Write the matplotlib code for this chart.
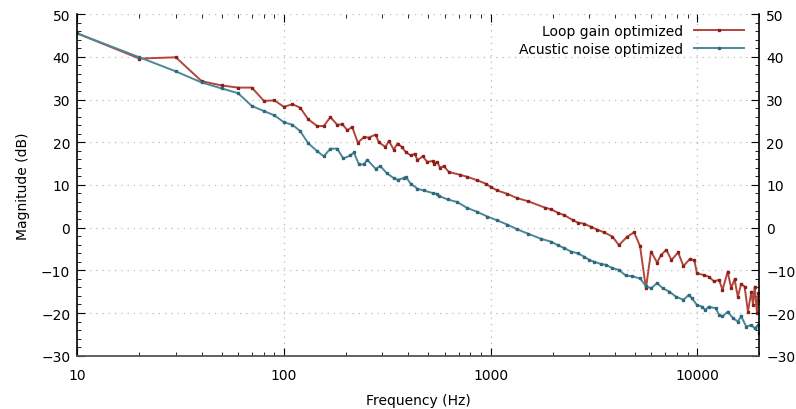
import matplotlib
matplotlib.use('Agg')
import matplotlib.pyplot as plt
import matplotlib.ticker as ticker

# Loop gain optimized
freq_loop = [10, 20, 30, 40, 50, 60, 70, 80, 90, 100, 110, 120, 131, 145, 156, 168,
             181, 192, 203, 214, 228, 244, 258, 278, 288, 310, 322, 340, 355, 372,
             389, 411, 430, 443, 470, 494, 524, 533, 552, 570, 594, 630, 710, 772,
             862, 947, 1004, 1078, 1207, 1346, 1516, 1830, 1963, 2113, 2276, 2496,
             2637, 2840, 3057, 3292, 3540, 3890, 4180, 4590, 4950, 5290, 5650, 5980,
             6400, 6690, 7090, 7510, 8090, 8580, 9240, 9700, 9970, 10740, 11380,
             12060, 12770, 13260, 14050, 14600, 15170, 15730, 16330, 16960, 17610,
             18290, 18630, 18980, 19470, 19710, 20000]
mag_loop = [45.5, 39.6, 39.9, 34.3, 33.3, 32.8, 32.8, 29.7, 29.8, 28.3, 28.9, 28.1, 25.4,
            23.8, 23.8, 25.9, 24.1, 24.2, 22.8, 23.6, 19.9, 21.2, 21.1, 21.8, 20.0, 18.9,
            20.3, 18.3, 19.7, 18.9, 17.7, 16.9, 17.3, 15.8, 16.7, 15.4, 15.6, 15.0, 15.4,
            14.0, 14.4, 13.0, 12.4, 11.9, 11.1, 10.3, 9.5, 8.7, 7.9, 6.9, 6.2, 4.7, 4.3,
            3.5, 2.9, 1.8, 1.2, 0.9, 0.2, -0.5, -1.1, -2.1, -4.1, -2.1, -1.1, -4.3, -14.2,
            -5.6, -8.2, -6.4, -5.2, -7.6, -5.8, -9.0, -7.3, -7.7, -10.7, -11.1, -11.5,
            -12.6, -12.2, -14.6, -10.3, -14.2, -12.1, -16.2, -13.2, -13.8, -19.7, -15.0,
            -18.1, -13.8, -20.0, -15.4, -17.3]

# Acustic noise optimized
freq_noise = [10, 20, 30, 40, 50, 60, 70, 80, 90, 100, 110, 120, 131, 145, 156, 168,
              181, 194, 210, 218, 231, 244, 253, 278, 293, 314, 340, 356, 380, 389,
              411, 443, 476, 524, 552, 565, 620, 689, 772, 862, 965, 1078, 1207, 1346,
              1516, 1750, 1963, 2113, 2276, 2450, 2637, 2840, 3010, 3180, 3410, 3620,
              3890, 4180, 4500, 4850, 5290, 5650, 5980, 6400, 6810, 7340, 7910, 8580,
              9080, 9420, 9970, 10560, 10960, 11380, 12290, 12770, 13260, 14050, 14890,
              15730, 16330, 17290, 18290, 18980, 19720, 20000]
mag_noise = [45.5, 39.9, 36.6, 34.0, 32.6, 31.5, 28.5, 27.3, 26.3, 24.7, 24.1, 22.6, 19.8,
             17.9, 16.7, 18.5, 18.5, 16.2, 16.9, 17.6, 14.8, 14.8, 15.9, 13.8, 14.4, 12.8,
             11.6, 11.2, 11.6, 11.9, 10.3, 9.1, 8.7, 8.1, 7.9, 7.4, 6.6, 6.0, 4.6, 3.7, 2.6,
             1.7, 0.7, -0.4, -1.4, -2.6, -3.3, -4.1, -4.8, -5.6, -6.0, -6.8, -7.6, -8.0,
             -8.5, -8.7, -9.5, -9.9, -11.2, -11.4, -11.9, -13.7, -14.2, -13.0, -14.2, -15.0,
             -16.2, -16.9, -15.8, -16.5, -18.1, -18.5, -19.3, -18.5, -18.9, -20.4, -20.8,
             -19.7, -21.2, -22.0, -20.8, -23.2, -22.8, -23.6, -22.8, -24.7]

plt.rcParams['font.family'] = ['DejaVu Sans']
plt.rcParams['font.size'] = 10

fig = plt.figure(figsize=(7.96, 4.10), dpi=100)
ax = fig.add_axes([0.097, 0.130, 0.857, 0.833])

ax.plot(freq_loop, mag_loop, color='#b0463c', lw=1.4, marker='s', ms=1.6,
        mfc='#8c2016', mec='#8c2016', label='Loop gain optimized')
ax.plot(freq_noise, mag_noise, color='#4d8798', lw=1.4, marker='s', ms=1.6,
        mfc='#2c6a7d', mec='#2c6a7d', label='Acustic noise optimized')

ax.set_xscale('log')
ax.set_xlim(10, 20000)
ax.set_ylim(-30, 50)
ax.xaxis.set_major_formatter(ticker.FuncFormatter(lambda v, p: '%d' % v))
ax.xaxis.set_minor_formatter(ticker.NullFormatter())
ax.yaxis.set_major_locator(ticker.MultipleLocator(10))
ax.yaxis.set_minor_locator(ticker.MultipleLocator(2))

# gnuplot-ish frame: ticks inward, mirrored y labels on the right
ax.spines['top'].set_visible(False)
ax.spines['bottom'].set_color('#555555')
ax.spines['bottom'].set_linewidth(1.3)
ax.spines['left'].set_linewidth(1.2)
ax.spines['right'].set_linewidth(1.2)
ax.tick_params(which='both', direction='in', top=True, right=True,
               labelright=True, color='black')
ax.tick_params(which='major', length=6)
ax.tick_params(which='minor', length=3)
ax.tick_params(axis='x', which='major', pad=9)
ax.tick_params(axis='y', which='major', pad=5)
ax.grid(True, which='major', color='#bbbbbb', linestyle=(0, (1, 4)), lw=0.9)

ax.set_xlabel('Frequency (Hz)', labelpad=8)
ax.set_ylabel('Magnitude (dB)', labelpad=8)

ax.legend(loc='upper right', bbox_to_anchor=(0.99, 0.995), frameon=False,
          markerfirst=False, handlelength=3.6, borderaxespad=0.2,
          labelspacing=0.25, handletextpad=0.8)

plt.savefig('out.png', dpi=100)
